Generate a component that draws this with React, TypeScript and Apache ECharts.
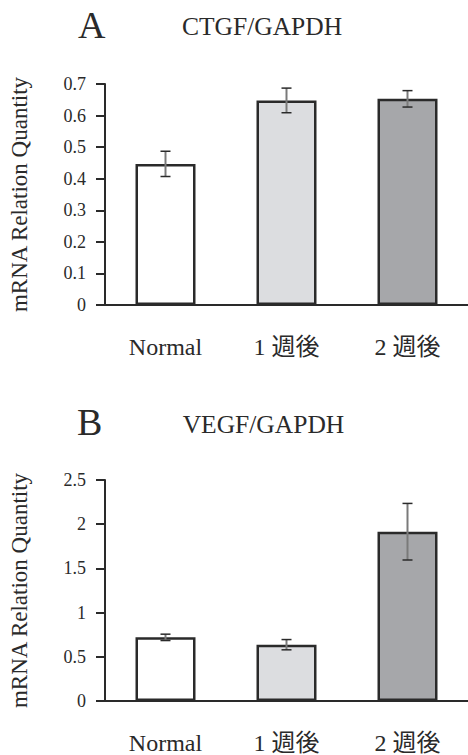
import React, { useEffect, useRef } from "react";
import * as echarts from "echarts";

const categories = ["Normal", "1 週後", "2 週後"];
const ctgfValues = [0.447, 0.648, 0.653];
const ctgfErrors = [0.04, 0.039, 0.026];
const vegfValues = [0.72, 0.637, 1.915];
const vegfErrors = [0.036, 0.058, 0.32];
const ctgfTicks = { min: 0, max: 0.7, interval: 0.1 };
const vegfTicks = { min: 0, max: 2.5, interval: 0.5 };
const barColors = ["#ffffff", "#dcdde0", "#a6a7aa"];
const panelLetters = ["A", "B"];
const panelTitles = ["CTGF/GAPDH", "VEGF/GAPDH"];
const yName = "mRNA Relation Quantity";

const SERIF = "'Liberation Serif', 'Noto Sans CJK JP', serif";
const INK = "#2a2a2a";

function errorRender(params: any, api: any) {
  const x = api.value(0);
  const v = api.value(1);
  const e = api.value(2);
  const hi = api.coord([x, v + e]);
  const lo = api.coord([x, v - e]);
  const w = 5;
  return {
    type: "group",
    children: [
      { type: "line", shape: { x1: hi[0], y1: hi[1], x2: lo[0], y2: lo[1] }, style: { stroke: "#7a7a7a", lineWidth: 2 } },
      { type: "line", shape: { x1: hi[0] - w, y1: hi[1], x2: hi[0] + w, y2: hi[1] }, style: { stroke: INK, lineWidth: 1.5 } },
      { type: "line", shape: { x1: lo[0] - w, y1: lo[1], x2: lo[0] + w, y2: lo[1] }, style: { stroke: INK, lineWidth: 1.5 } },
    ],
  };
}

export default function App() {
  const ref = useRef<HTMLDivElement>(null);
  useEffect(() => {
    if (!ref.current) return;
    const chart = echarts.init(ref.current, undefined, { renderer: "svg" });
    const grids = [
      { left: 101, top: 84, width: 372, height: 221 },
      { left: 101, top: 480, width: 372, height: 222 },
    ];
    const ticks = [ctgfTicks, vegfTicks];
    const values = [ctgfValues, vegfValues];
    const errors = [ctgfErrors, vegfErrors];
    const option: any = {
      animation: false,
      backgroundColor: "#ffffff",
      grid: grids,
      xAxis: grids.map((_, i) => ({
        type: "category",
        gridIndex: i,
        data: categories,
        axisLine: { lineStyle: { color: INK, width: 2 } },
        axisTick: { show: false },
        axisLabel: {
          color: INK,
          fontFamily: SERIF,
          fontSize: 24,
          margin: 42,
          verticalAlign: "middle",
        },
      })),
      yAxis: grids.map((_, i) => ({
        type: "value",
        gridIndex: i,
        min: ticks[i].min,
        max: ticks[i].max,
        interval: ticks[i].interval,
        name: yName,
        nameLocation: "middle",
        nameRotate: 90,
        nameGap: 74,
        nameTextStyle: { color: INK, fontFamily: SERIF, fontSize: 23 },
        axisLine: { show: true, lineStyle: { color: INK, width: 2 } },
        axisTick: { show: true, length: 9, lineStyle: { color: INK, width: 2 } },
        axisLabel: {
          color: INK,
          fontFamily: SERIF,
          fontSize: 18,
          margin: 19,
          padding: [5, 0, 0, 0],
        },
        splitLine: { show: false },
      })),
      series: [
        ...values.map((vals, i) => ({
          type: "bar",
          xAxisIndex: i,
          yAxisIndex: i,
          barWidth: 60,
          data: vals.map((v, j) => ({
            value: v,
            itemStyle: { color: barColors[j], borderColor: INK, borderWidth: 2.5 },
          })),
        })),
        ...values.map((vals, i) => ({
          type: "custom",
          xAxisIndex: i,
          yAxisIndex: i,
          z: 5,
          renderItem: errorRender,
          data: vals.map((v, j) => [j, v, errors[i][j]]),
        })),
      ],
      graphic: [
        { type: "text", x: 78, y: 25, style: { text: panelLetters[0], font: `38px ${SERIF}`, fill: INK, verticalAlign: "middle" } },
        { type: "text", x: 182, y: 26.7, style: { text: panelTitles[0], font: `25.5px ${SERIF}`, fill: INK, verticalAlign: "middle" } },
        { type: "text", x: 77, y: 421.7, style: { text: panelLetters[1], font: `38px ${SERIF}`, fill: INK, verticalAlign: "middle" } },
        { type: "text", x: 182.7, y: 424.2, style: { text: panelTitles[1], font: `25.5px ${SERIF}`, fill: INK, verticalAlign: "middle" } },
      ],
    };
    chart.setOption(option);
    return () => chart.dispose();
  }, []);
  return (
    <div
      ref={ref}
      style={{ position: "absolute", left: 0, top: 0, width: 468, height: 755, background: "#fff" }}
    />
  );
}
